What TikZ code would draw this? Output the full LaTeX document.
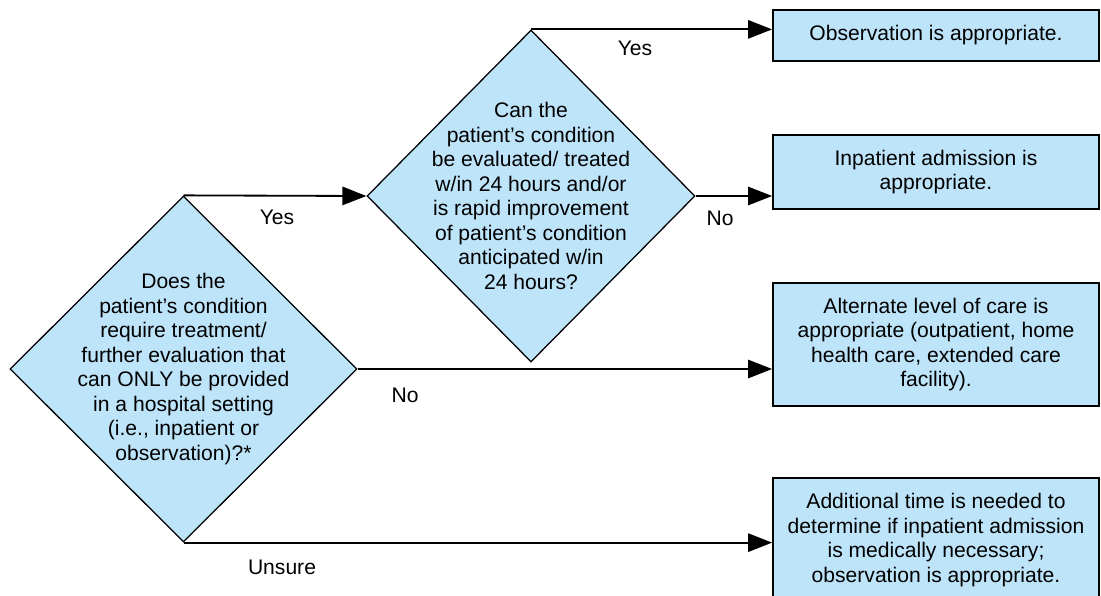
\documentclass[tikz,border=0pt]{standalone}
\usepackage{fontspec}
\setmainfont{Liberation Sans}
\usepackage{xcolor}
\usepackage{tikz}
\usetikzlibrary{shapes.geometric,arrows.meta,positioning}

\definecolor{boxblue}{RGB}{190,228,250}

\begin{document}
\begin{tikzpicture}[x=0.025cm,y=-0.025cm,
  every node/.style={font=\fontsize{15pt}{17.4pt}\selectfont},
  decision/.style={diamond,draw=black,line width=0.9pt,fill=boxblue,inner sep=0pt},
  outcome/.style={rectangle,draw=black,line width=1.3pt,fill=boxblue,align=center,
    minimum width=326*0.025cm,inner sep=0pt},
  flow/.style={line width=1.3pt,-{Triangle[length=17pt,width=13pt]}},
  answer/.style={inner sep=0pt}]
\useasboundingbox (0,0) rectangle (1101,595);

% Decisions
\node[decision,minimum width=347*0.025cm,minimum height=346*0.025cm] (hosp) at (183.5,369) {};
\node[align=center] (hosptext) at (hosp.center) {Does the\\patient’s condition\\require treatment/\\further evaluation that\\can ONLY be provided\\in a hospital setting\\(i.e., inpatient or\\observation)?*};

\node[decision,minimum width=328*0.025cm,minimum height=332*0.025cm] (rapid) at (531,196) {};
\node[align=center] (rapidtext) at (rapid.center) {Can the\\patient’s condition\\be evaluated/ treated\\w/in 24 hours and/or\\is rapid improvement\\of patient’s condition\\anticipated w/in\\24 hours?};

% Outcomes
\node[outcome,minimum height=51*0.025cm] (obs) at (936,35.5) {Observation is appropriate.};
\node[outcome,minimum height=74*0.025cm] (inpat) at (936,172) {Inpatient admission is\\appropriate.};
\node[outcome,minimum height=123*0.025cm] (alt) at (936,344.5) {Alternate level of care is\\appropriate (outpatient, home\\health care, extended care\\facility).};
\node[outcome,minimum height=124*0.025cm] (more) at (936,540) {Additional time is needed to\\determine if inpatient admission\\is medically necessary;\\observation is appropriate.};

% Connectors
\draw[flow] (hosp.north) -- (rapid.west);
\draw[flow] (rapid.north) -- (rapid.north -| obs.west);
\draw[flow] (rapid.east) -- (rapid.east -| inpat.west);
\draw[flow] (hosp.east) -- (hosp.east -| alt.west);
\draw[flow] (hosp.south) -- (hosp.south -| more.west);

% Answers
\node[answer] (yestop) at (635,48) {Yes};
\node[answer] (yeslow) at (277,217) {Yes};
\node[answer] (norapid) at (720,218) {No};
\node[answer] (nohosp) at (405,395) {No};
\node[answer] (unsure) at (282,567) {Unsure};
\end{tikzpicture}
\end{document}
